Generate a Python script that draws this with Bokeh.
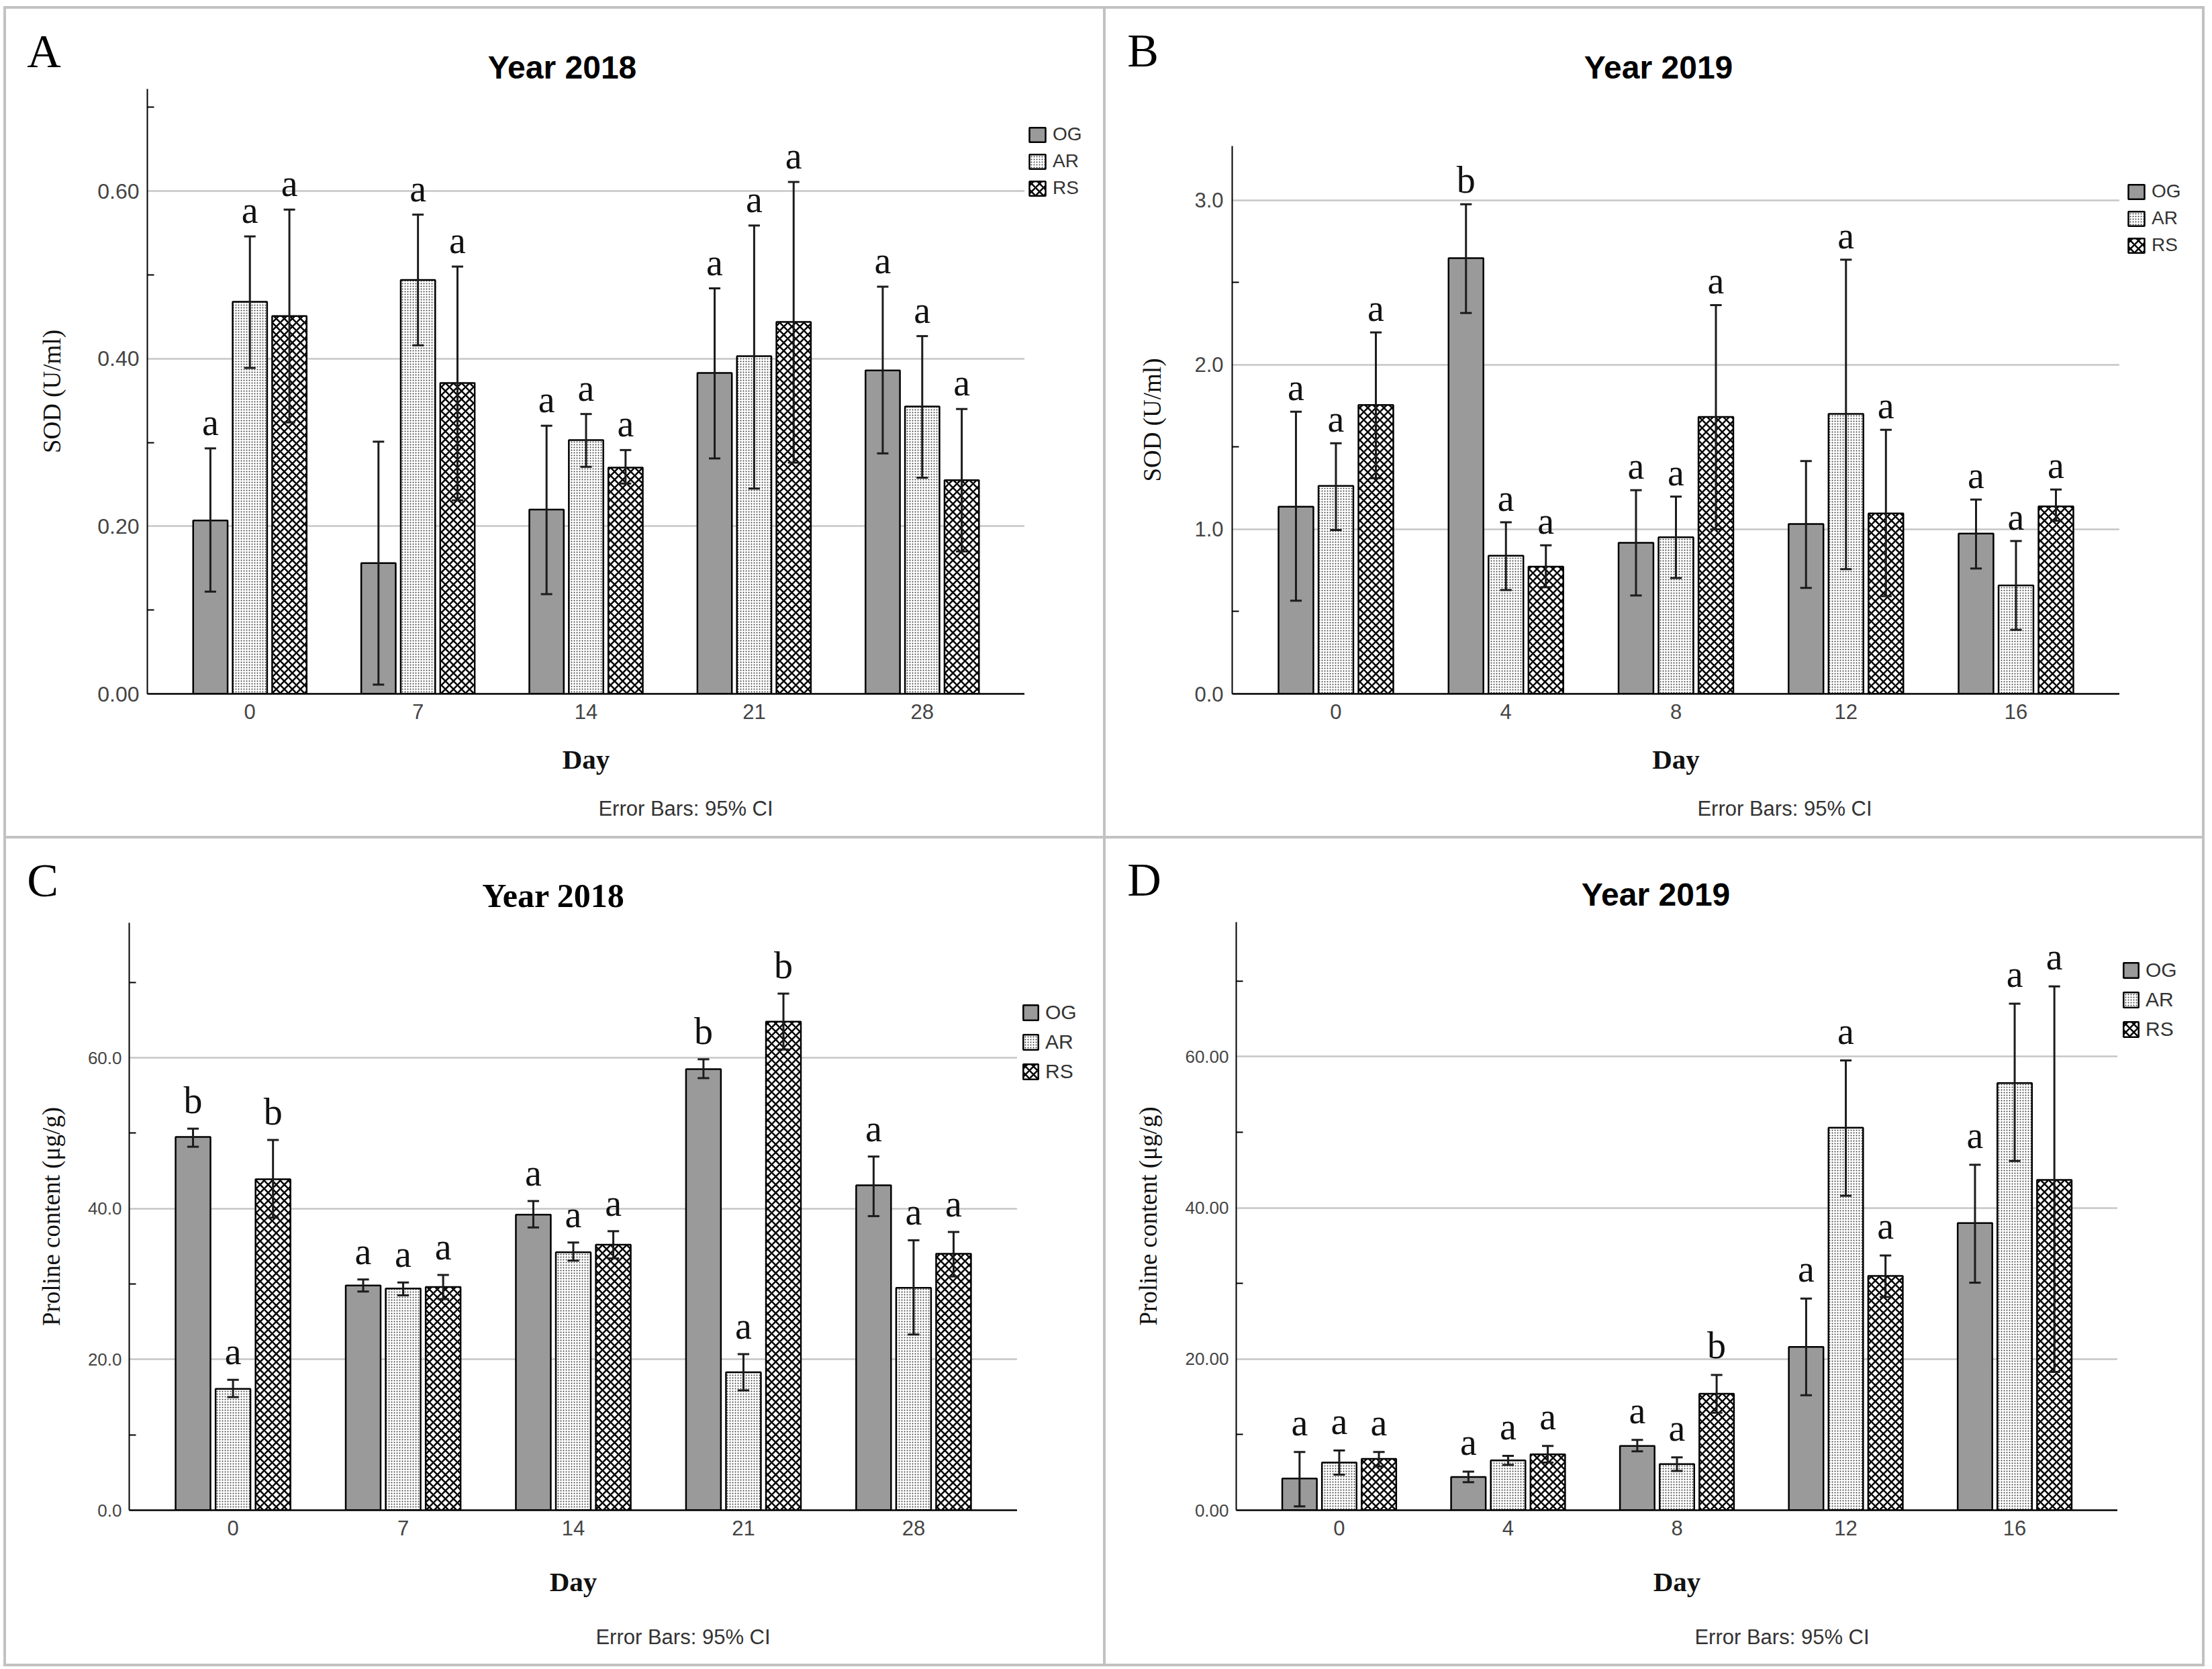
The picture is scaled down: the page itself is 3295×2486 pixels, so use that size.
import math

from bokeh.core.properties import value
from bokeh.embed import file_html
from bokeh.layouts import column, row
from bokeh.models import (ColumnDataSource, FixedTicker, Label, Legend, LegendItem,
                          PrintfTickFormatter, Range1d, Spacer)
from bokeh.plotting import figure
from bokeh.resources import INLINE

# ---------------------------------------------------------------- data
series_names = ["OG", "AR", "RS"]

# A: SOD, 2018
sod18_days = ["0", "7", "14", "21", "28"]
sod18_og = [0.207, 0.156, 0.220, 0.383, 0.386]
sod18_og_lo = [0.122, 0.011, 0.119, 0.281, 0.287]
sod18_og_hi = [0.293, 0.301, 0.320, 0.484, 0.486]
sod18_ar = [0.468, 0.494, 0.303, 0.403, 0.343]
sod18_ar_lo = [0.389, 0.416, 0.271, 0.245, 0.258]
sod18_ar_hi = [0.546, 0.572, 0.334, 0.559, 0.427]
sod18_rs = [0.451, 0.371, 0.270, 0.444, 0.255]
sod18_rs_lo = [0.324, 0.231, 0.251, 0.276, 0.170]
sod18_rs_hi = [0.578, 0.510, 0.291, 0.611, 0.340]
sod18_og_sig = ["a", "", "a", "a", "a"]
sod18_ar_sig = ["a", "a", "a", "a", "a"]
sod18_rs_sig = ["a", "a", "a", "a", "a"]

# B: SOD, 2019
sod19_days = ["0", "4", "8", "12", "16"]
sod19_og = [1.138, 2.648, 0.918, 1.032, 0.974]
sod19_og_lo = [0.566, 2.315, 0.598, 0.644, 0.762]
sod19_og_hi = [1.715, 2.976, 1.238, 1.415, 1.181]
sod19_ar = [1.264, 0.840, 0.952, 1.702, 0.659]
sod19_ar_lo = [0.996, 0.631, 0.704, 0.758, 0.389]
sod19_ar_hi = [1.523, 1.043, 1.199, 2.639, 0.929]
sod19_rs = [1.756, 0.773, 1.683, 1.097, 1.140]
sod19_rs_lo = [1.311, 0.648, 1.000, 0.594, 1.052]
sod19_rs_hi = [2.197, 0.903, 2.363, 1.605, 1.242]
sod19_og_sig = ["a", "b", "a", "", "a"]
sod19_ar_sig = ["a", "a", "a", "a", "a"]
sod19_rs_sig = ["a", "a", "a", "a", "a"]

# C: proline, 2018
pro18_days = ["0", "7", "14", "21", "28"]
pro18_og = [49.5, 29.8, 39.2, 58.5, 43.1]
pro18_og_lo = [48.2, 29.0, 37.5, 57.3, 39.0]
pro18_og_hi = [50.6, 30.6, 41.0, 59.8, 46.9]
pro18_ar = [16.1, 29.4, 34.2, 18.3, 29.5]
pro18_ar_lo = [15.0, 28.5, 33.1, 15.9, 23.3]
pro18_ar_hi = [17.3, 30.2, 35.5, 20.7, 35.8]
pro18_rs = [43.9, 29.6, 35.2, 64.8, 34.0]
pro18_rs_lo = [38.8, 28.0, 33.4, 61.1, 31.0]
pro18_rs_hi = [49.1, 31.2, 37.0, 68.5, 36.9]
pro18_og_sig = ["b", "a", "a", "b", "a"]
pro18_ar_sig = ["a", "a", "a", "a", "a"]
pro18_rs_sig = ["b", "a", "a", "b", "a"]

# D: proline, 2019
pro19_days = ["0", "4", "8", "12", "16"]
pro19_og = [4.2, 4.4, 8.5, 21.6, 38.0]
pro19_og_lo = [0.5, 3.7, 7.8, 15.2, 30.1]
pro19_og_hi = [7.7, 5.1, 9.3, 28.0, 45.7]
pro19_ar = [6.3, 6.6, 6.1, 50.6, 56.5]
pro19_ar_lo = [4.7, 6.0, 5.2, 41.6, 46.2]
pro19_ar_hi = [7.9, 7.2, 7.0, 59.5, 67.0]
pro19_rs = [6.8, 7.4, 15.4, 31.0, 43.7]
pro19_rs_lo = [5.8, 6.3, 12.9, 28.2, 18.3]
pro19_rs_hi = [7.7, 8.5, 17.9, 33.7, 69.3]
pro19_og_sig = ["a", "a", "a", "a", "a"]
pro19_ar_sig = ["a", "a", "a", "a", "a"]
pro19_rs_sig = ["a", "a", "b", "a", "a"]

# ---------------------------------------------------------------- styling
SERIF = "Liberation Serif"
SANS = "Liberation Sans"
FRAME_GRAY = "#c2c2c2"

BAR_STYLE = {
    "OG": dict(fill_color="#9a9a9a", hatch_pattern=None),
    "AR": dict(fill_color="white", hatch_pattern="dot", hatch_color="#3a3a3a",
               hatch_scale=4, hatch_weight=2.6),
    "RS": dict(fill_color="white", hatch_pattern="diagonal_cross", hatch_color="black",
               hatch_scale=12, hatch_weight=2.5),
}
OFFSETS = {"OG": -0.235, "AR": 0.0, "RS": 0.235}
BAR_W = 0.205
CAP_HALF = 0.034
XAXIS_BAND = 130   # room under the frame for tick labels and the "Day" label


def text_strip(width, height):
    """A bare canvas whose data coordinates are its own pixels (y downwards)."""
    s = figure(width=width, height=height, x_range=Range1d(0, width),
               y_range=Range1d(height, 0), x_axis_type=None, y_axis_type=None,
               output_backend="svg", toolbar_location=None, min_border=0,
               outline_line_color=None, background_fill_color="white",
               border_fill_color="white", frame_align=False)
    s.xgrid.visible = False
    s.ygrid.visible = False
    return s


def put(strip, text, x, y, font, size, style="normal", color="#111111"):
    strip.add_layout(Label(x=x, y=y, text=text, text_font=font, text_font_size=size,
                           text_font_style=style, text_align="center",
                           text_baseline="middle", text_color=color))


def make_panel(cfg):
    W, H = cfg["size"]
    L, R, T, fh = cfg["frame"]          # left, right border, top offset, frame height
    main_h = fh + XAXIS_BAND
    foot_h = H - T - main_h

    # header: panel letter and title
    head = text_strip(W, T)
    put(head, cfg["letter"], *cfg["letter_pos"], SERIF, "70px", color="black")
    put(head, cfg["title"], *cfg["title_pos"], cfg["title_font"], cfg["title_size"],
        "bold", color="black")

    # chart
    p = figure(width=W - R, height=main_h, x_range=Range1d(-0.61, 4.61),
               y_range=Range1d(0, cfg["ytop"]), output_backend="svg",
               toolbar_location=None, min_border_left=L, min_border_right=0,
               min_border_top=0, min_border_bottom=XAXIS_BAND, outline_line_color=None,
               background_fill_color="white", border_fill_color="white",
               frame_align=False)

    days = cfg["days"]
    p.xaxis.ticker = FixedTicker(ticks=list(range(len(days))))
    p.xaxis.major_label_overrides = {i: d for i, d in enumerate(days)}
    p.xaxis.major_tick_line_color = None
    p.xaxis.minor_tick_line_color = None
    p.xaxis.axis_line_width = 2.5
    p.xaxis.axis_line_color = "black"
    p.xaxis.major_label_text_font = SANS
    p.xaxis.major_label_text_font_size = "31px"
    p.xaxis.major_label_text_color = "#444444"
    p.xaxis.major_label_standoff = 9
    p.xaxis.axis_label = "Day"
    p.xaxis.axis_label_text_font = SERIF
    p.xaxis.axis_label_text_font_size = "41px"
    p.xaxis.axis_label_text_font_style = "bold"
    p.xaxis.axis_label_text_color = "#111111"
    p.xaxis.axis_label_standoff = cfg["xlabel_standoff"]

    p.yaxis.ticker = FixedTicker(ticks=cfg["major"], minor_ticks=cfg["minor"])
    p.yaxis.formatter = PrintfTickFormatter(format=cfg["fmt"])
    p.yaxis.major_tick_in = 0
    p.yaxis.major_tick_out = 0
    p.yaxis.minor_tick_in = 10
    p.yaxis.minor_tick_out = 0
    p.yaxis.minor_tick_line_width = 2
    p.yaxis.minor_tick_line_color = "black"
    p.yaxis.axis_line_width = 2
    p.yaxis.axis_line_color = "black"
    p.yaxis.major_label_text_font = SANS
    p.yaxis.major_label_text_font_size = cfg["ytick_size"]
    p.yaxis.major_label_text_color = "#444444"
    p.yaxis.major_label_standoff = cfg["ytick_standoff"]
    p.yaxis.axis_label = cfg["ylabel"]
    p.yaxis.axis_label_text_font = SERIF
    p.yaxis.axis_label_text_font_size = "37px"
    p.yaxis.axis_label_text_font_style = "normal"
    p.yaxis.axis_label_text_color = "#111111"
    p.yaxis.axis_label_standoff = cfg["ylabel_standoff"]

    p.xgrid.grid_line_color = None
    p.ygrid.grid_line_color = "#c6c6c6"
    p.ygrid.grid_line_width = 2.5

    # letters are centred a fixed number of pixels above the upper whisker
    lift = cfg["sig_gap"] * cfg["ytop"] / fh

    for name in series_names:
        vals, lo, hi, sig = cfg["series"][name]
        xs = [i + OFFSETS[name] for i in range(len(vals))]
        src = ColumnDataSource(dict(x=xs, top=vals, lo=lo, hi=hi, sig=sig,
                                    sig_y=[h + lift for h in hi],
                                    xl=[x - CAP_HALF for x in xs],
                                    xr=[x + CAP_HALF for x in xs]))
        p.vbar(x="x", top="top", width=BAR_W, source=src,
               line_color="black", line_width=2.5, **BAR_STYLE[name])
        p.segment(x0="x", y0="lo", x1="x", y1="hi", source=src,
                  line_color="#1c1c1c", line_width=3)
        p.segment(x0="xl", y0="hi", x1="xr", y1="hi", source=src,
                  line_color="#1c1c1c", line_width=3)
        p.segment(x0="xl", y0="lo", x1="xr", y1="lo", source=src,
                  line_color="#1c1c1c", line_width=3)
        p.text(x="x", y="sig_y", text="sig", source=src, text_font=value(SERIF),
               text_font_size="56px", text_align="center", text_baseline="middle",
               text_color="#111111")

    # legend column to the right of the chart; its entries are legend-only
    # renderers (a single NaN bar each) carrying the bar styles
    key = text_strip(R, main_h)
    nan = float("nan")
    swatches = {n: key.vbar(x=[nan], top=[nan], width=1, line_color="black",
                            line_width=2.5, **BAR_STYLE[n]) for n in series_names}
    lx, ly = cfg["legend_pos"]
    gw, gh = cfg["legend_glyph"]
    legend = Legend(items=[LegendItem(label=n, renderers=[swatches[n]]) for n in series_names],
                    location=(lx, main_h - ly), orientation="vertical", padding=0, margin=0,
                    spacing=cfg["legend_spacing"], glyph_width=gw, glyph_height=gh,
                    label_height=gh, label_standoff=8, border_line_color=None,
                    background_fill_alpha=0, label_text_font=SANS,
                    label_text_font_size=cfg["legend_font"], label_text_color="#333333")
    key.add_layout(legend)

    # footer: error bar note
    foot = text_strip(W, foot_h)
    put(foot, "Error Bars: 95% CI", *cfg["note_pos"], SANS, "31px", color="#333333")

    return column(head, row(p, key), foot)


panel_a = make_panel(dict(
    size=(1634, 1232), frame=(210, 117, 119, 901), ytop=0.722,
    major=[0.0, 0.2, 0.4, 0.6], minor=[0.1, 0.3, 0.5, 0.7], fmt="%.2f",
    ytick_size="32px", ytick_standoff=12, ylabel_standoff=44, xlabel_standoff=34,
    days=sod18_days,
    series={"OG": (sod18_og, sod18_og_lo, sod18_og_hi, sod18_og_sig),
            "AR": (sod18_ar, sod18_ar_lo, sod18_ar_hi, sod18_ar_sig),
            "RS": (sod18_rs, sod18_rs_lo, sod18_rs_hi, sod18_rs_sig)},
    sig_gap=39, legend_pos=(4, 164), legend_glyph=(30, 27), legend_spacing=8,
    legend_font="28px", letter="A", letter_pos=(56, 63), title="Year 2018",
    title_pos=(828, 87), title_font=SANS, title_size="48px", ylabel="SOD (U/ml)",
    note_pos=(1012, 41)))

panel_b = make_panel(dict(
    size=(1633, 1232), frame=(188, 123, 204, 816), ytop=3.33,
    major=[0.0, 1.0, 2.0, 3.0], minor=[0.5, 1.5, 2.5], fmt="%.1f",
    ytick_size="31px", ytick_standoff=13, ylabel_standoff=39, xlabel_standoff=34,
    days=sod19_days,
    series={"OG": (sod19_og, sod19_og_lo, sod19_og_hi, sod19_og_sig),
            "AR": (sod19_ar, sod19_ar_lo, sod19_ar_hi, sod19_ar_sig),
            "RS": (sod19_rs, sod19_rs_lo, sod19_rs_hi, sod19_rs_sig)},
    sig_gap=36, legend_pos=(10, 164), legend_glyph=(30, 27), legend_spacing=8,
    legend_font="28px", letter="B", letter_pos=(55, 62), title="Year 2019",
    title_pos=(823, 87), title_font=SANS, title_size="48px", ylabel="SOD (U/ml)",
    note_pos=(1011, 41)))

panel_c = make_panel(dict(
    size=(1634, 1229), frame=(183, 128, 125, 877), ytop=77.9,
    major=[0.0, 20.0, 40.0, 60.0], minor=[10.0, 30.0, 50.0, 70.0], fmt="%.1f",
    ytick_size="26px", ytick_standoff=11, ylabel_standoff=31, xlabel_standoff=43,
    days=pro18_days,
    series={"OG": (pro18_og, pro18_og_lo, pro18_og_hi, pro18_og_sig),
            "AR": (pro18_ar, pro18_ar_lo, pro18_ar_hi, pro18_ar_sig),
            "RS": (pro18_rs, pro18_rs_lo, pro18_rs_hi, pro18_rs_sig)},
    sig_gap=42, legend_pos=(6, 239), legend_glyph=(28, 28), legend_spacing=10,
    legend_font="30px", letter="C", letter_pos=(54, 62), title="Year 2018",
    title_pos=(815, 84), title_font=SERIF, title_size="50px",
    ylabel="Proline content (\u03bcg/g)", note_pos=(1008, 57)))

panel_d = make_panel(dict(
    size=(1633, 1229), frame=(194, 126, 124, 878), ytop=77.8,
    major=[0.0, 20.0, 40.0, 60.0], minor=[10.0, 30.0, 50.0, 70.0], fmt="%.2f",
    ytick_size="26px", ytick_standoff=11, ylabel_standoff=31, xlabel_standoff=43,
    days=pro19_days,
    series={"OG": (pro19_og, pro19_og_lo, pro19_og_hi, pro19_og_sig),
            "AR": (pro19_ar, pro19_ar_lo, pro19_ar_hi, pro19_ar_sig),
            "RS": (pro19_rs, pro19_rs_lo, pro19_rs_hi, pro19_rs_sig)},
    sig_gap=44, legend_pos=(6, 177), legend_glyph=(28, 28), legend_spacing=10,
    legend_font="30px", letter="D", letter_pos=(57, 61), title="Year 2019",
    title_pos=(819, 83), title_font=SANS, title_size="48px",
    ylabel="Proline content (\u03bcg/g)", note_pos=(1007, 57)))


# ---------------------------------------------------------------- frame lines and layout
def vline(h):
    return Spacer(width=4, height=h, margin=0, styles={"background-color": FRAME_GRAY})


def hline(w):
    return Spacer(width=w, height=4, margin=0, styles={"background-color": FRAME_GRAY})


inner_w = 4 + 1634 + 4 + 1633 + 4
grid = column(
    Spacer(width=inner_w, height=9, margin=0),
    hline(inner_w),
    row(vline(1232), panel_a, vline(1232), panel_b, vline(1232)),
    hline(inner_w),
    row(vline(1229), panel_c, vline(1229), panel_d, vline(1229)),
    hline(inner_w),
)
page = row(Spacer(width=5, height=2486, margin=0), grid)

open("out.html", "w").write(file_html(page, INLINE))
